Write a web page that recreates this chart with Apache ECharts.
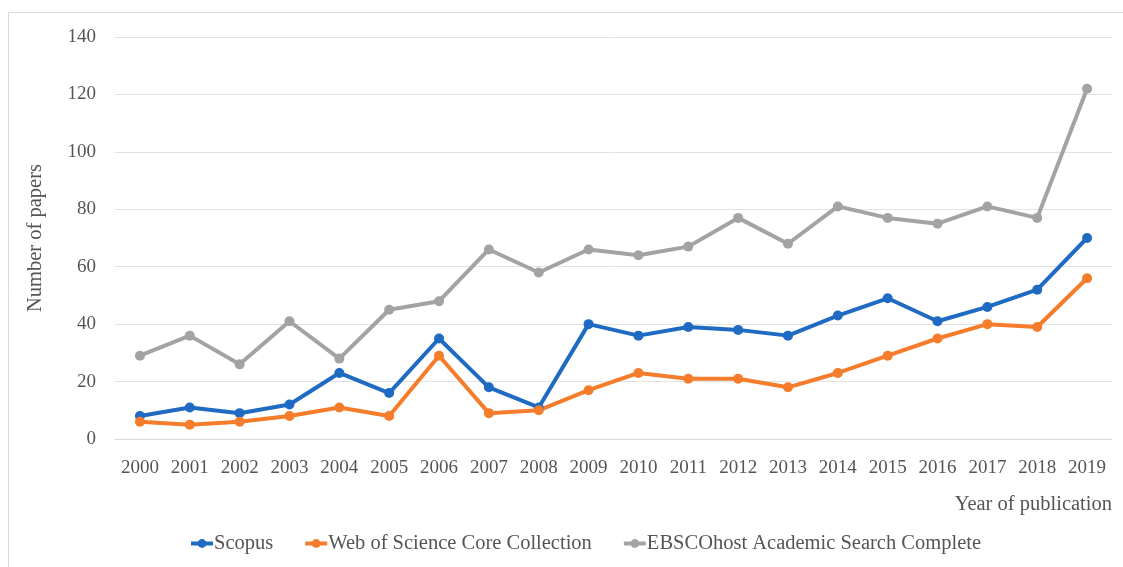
<!DOCTYPE html>
<html><head><meta charset="utf-8">
<script src="https://cdn.jsdelivr.net/npm/echarts@6/dist/echarts.min.js"></script>
<style>html,body{margin:0;padding:0;background:#fff}#c{width:1123px;height:567px}</style>
</head><body><div id="c"></div>
<script>
const years = ['2000','2001','2002','2003','2004','2005','2006','2007','2008','2009','2010','2011','2012','2013','2014','2015','2016','2017','2018','2019'];
const scopus = [8,11,9,12,23,16,35,18,11,40,36,39,38,36,43,49,41,46,52,70];
const wos = [6,5,6,8,11,8,29,9,10,17,23,21,21,18,23,29,35,40,39,56];
const ebsco = [29,36,26,41,28,45,48,66,58,66,64,67,77,68,81,77,75,81,77,122];
const yTicks = [0,20,40,60,80,100,120,140];

const font = 'Liberation Serif';
const txt = '#555555';
const chart = echarts.init(document.getElementById('c'));
const mk = (name, data, color) => ({
  name, type: 'line', data, color,
  symbol: 'circle', symbolSize: 10,
  lineStyle: {width: 4, color},
  itemStyle: {color},
  emphasis: {disabled: true}, animation: false
});
chart.setOption({
  animation: false,
  grid: {left: 115, right: 11, top: 37, bottom: 128, containLabel: false},
  graphic: [
    {type: 'rect', shape: {x: 8.5, y: 12.5, width: 1200, height: 700}, style: {fill: 'none', stroke: '#d9d9d9', lineWidth: 1}, silent: true},
    {type: 'text', right: 11, top: 494, style: {text: 'Year of publication', font: '20.5px "' + font + '"', fill: txt}}
  ],
  legend: {
    left: 184, top: 528,
    itemWidth: 22, itemHeight: 11, itemGap: 30,
    lineStyle: {width: 4},
    textStyle: {fontFamily: font, fontSize: 20.5, color: txt, padding: [0,0,0,-4]},
    data: ['Scopus','Web of Science Core Collection','EBSCOhost Academic Search Complete']
  },
  xAxis: {
    type: 'category', data: years, boundaryGap: true,
    axisLine: {lineStyle: {color: '#d9d9d9', width: 1}},
    axisTick: {show: false},
    axisLabel: {fontFamily: font, fontSize: 19, color: txt, margin: 20}
  },
  yAxis: {
    type: 'value', min: 0, max: 140, interval: 20,
    name: 'Number of papers', nameLocation: 'middle', nameGap: 69,
    nameTextStyle: {fontFamily: font, fontSize: 20.5, color: txt},
    axisLine: {show: false}, axisTick: {show: false},
    axisLabel: {fontFamily: font, fontSize: 19, color: txt, margin: 19,
      formatter: v => yTicks.includes(v) ? String(v) : ''},
    splitLine: {lineStyle: {color: '#e3e3e3', width: 1}}
  },
  series: [
    mk('Scopus', scopus, '#1f6ac3'),
    mk('Web of Science Core Collection', wos, '#f57c2a'),
    mk('EBSCOhost Academic Search Complete', ebsco, '#a3a3a3')
  ]
});
</script></body></html>
